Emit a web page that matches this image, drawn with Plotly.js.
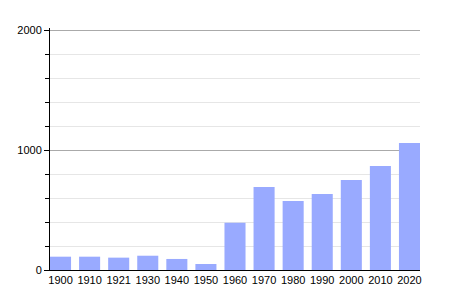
<!DOCTYPE html>
<html><head><meta charset="utf-8">
<script src="https://cdn.plot.ly/plotly-3.0.1.min.js"></script>
<style>html,body{margin:0;padding:0;background:#fff}#c{width:450px;height:300px}</style>
</head><body><div id="c"></div>
<script>
const years = ["1900","1910","1921","1930","1940","1950","1960","1970","1980","1990","2000","2010","2020"];
const population = [111,111,103,119,92,50,394,692,575,633,750,867,1058];
const yTicks = [0,1000,2000];
const bargap = 0.276;
const half = (1 - bargap) / 2;

Plotly.newPlot('c', [{
  type:'bar', x:years, y:population,
  marker:{color:'#99aaff'}, hoverinfo:'x+y'
}], {
  width:450, height:300,
  margin:{l:50, r:30, t:28, b:30},
  paper_bgcolor:'#fff', plot_bgcolor:'#fff',
  bargap:bargap,
  font:{family:'Liberation Sans, Arial, sans-serif', size:11, color:'#000'},
  xaxis:{type:'category', range:[-half, years.length - 1 + half], showline:true, linecolor:'#000', linewidth:1, ticks:'', showgrid:false, tickfont:{size:11}},
  yaxis:{range:[0,2016.7], tickvals:yTicks, ticktext:yTicks.map(String), showline:true, linecolor:'#000', linewidth:1,
    ticks:'outside', ticklen:5, tickcolor:'#000', showgrid:true, gridcolor:'#aaaaaa', zeroline:false,
    minor:{dtick:200, tick0:0, ticks:'outside', ticklen:4, tickcolor:'#000', showgrid:true, gridcolor:'#e6e6e6'}},
  showlegend:false
}, {displayModeBar:false, staticPlot:true});
</script></body></html>
